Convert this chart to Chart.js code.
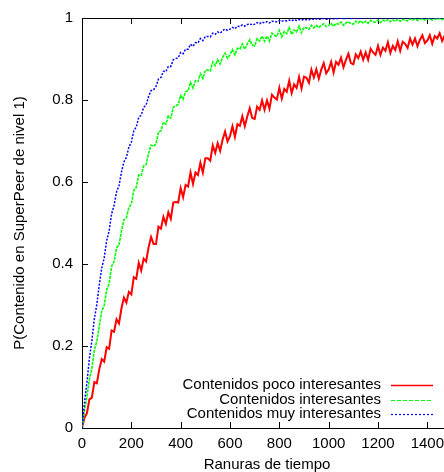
<!DOCTYPE html>
<html>
<head>
<meta charset="utf-8">
<script src="https://cdn.jsdelivr.net/npm/chart.js@4.4.1/dist/chart.umd.min.js"></script>
<style>
    html, body { margin: 0; padding: 0; background: #fff; overflow: hidden; }
    #wrap { width: 460px; height: 472px; }
</style>
</head>
<body>
<div id="wrap"><canvas id="grafico" width="460" height="472"></canvas></div>
<script>
// ranuras de tiempo (eje x)
const ranuras = [
    0, 10, 20, 30, 40, 50, 60, 70, 80, 90,
    100, 110, 120, 130, 140, 150, 160, 170, 180, 190,
    200, 210, 220, 230, 240, 250, 260, 270, 280, 290,
    300, 310, 320, 330, 340, 350, 360, 370, 380, 390,
    400, 410, 420, 430, 440, 450, 460, 470, 480, 490,
    500, 510, 520, 530, 540, 550, 560, 570, 580, 590,
    600, 610, 620, 630, 640, 650, 660, 670, 680, 690,
    700, 710, 720, 730, 740, 750, 760, 770, 780, 790,
    800, 810, 820, 830, 840, 850, 860, 870, 880, 890,
    900, 910, 920, 930, 940, 950, 960, 970, 980, 990,
    1000, 1010, 1020, 1030, 1040, 1050, 1060, 1070, 1080, 1090,
    1100, 1110, 1120, 1130, 1140, 1150, 1160, 1170, 1180, 1190,
    1200, 1210, 1220, 1230, 1240, 1250, 1260, 1270, 1280, 1290,
    1300, 1310, 1320, 1330, 1340, 1350, 1360, 1370, 1380, 1390,
    1400, 1410, 1420, 1430, 1440, 1450, 1460, 1470, 1480, 1490,
    1500
];

const pocoInteresantes = [
    0, .025, .036, .070, .074, .112, .109, .143, .168, .162,
    .197, .193, .238, .235, .265, .255, .292, .318, .306, .332,
    .326, .368, .364, .403, .384, .413, .406, .441, .466, .449,
    .449, .491, .486, .515, .498, .526, .510, .550, .551, .550,
    .585, .563, .593, .589, .623, .595, .623, .617, .647, .623,
    .658, .658, .652, .689, .671, .695, .676, .703, .723, .699,
    .712, .736, .710, .741, .737, .760, .736, .760, .780, .756,
    .754, .784, .776, .799, .776, .799, .779, .813, .806, .801,
    .830, .803, .827, .820, .847, .817, .838, .829, .856, .828,
    .857, .854, .842, .874, .855, .875, .852, .874, .890, .865,
    .874, .893, .867, .893, .886, .903, .880, .898, .913, .890,
    .887, .911, .902, .918, .898, .916, .898, .925, .916, .910,
    .932, .910, .928, .920, .941, .915, .932, .922, .943, .920,
    .942, .937, .927, .950, .935, .950, .931, .947, .958, .939,
    .945, .958, .937, .956, .950, .963, .944, .957, .967, .950,
    .949
];

const interesantes = [
    0, .043, .076, .119, .146, .190, .211, .249, .285, .299,
    .337, .352, .394, .406, .439, .447, .480, .508, .513, .538,
    .546, .580, .587, .617, .616, .639, .643, .670, .690, .687,
    .693, .722, .725, .746, .741, .761, .756, .782, .786, .789,
    .811, .802, .821, .822, .843, .829, .847, .845, .864, .852,
    .873, .873, .871, .893, .884, .898, .888, .904, .914, .902,
    .910, .923, .910, .926, .924, .937, .924, .937, .947, .934,
    .932, .950, .944, .956, .943, .956, .944, .963, .958, .955,
    .970, .954, .967, .962, .977, .960, .971, .966, .980, .964,
    .977, .976, .972, .982, .976, .982, .976, .982, .986, .979,
    .982, .987, .980, .987, .985, .990, .982, .988, .991, .986,
    .985, .992, .988, .993, .987, .992, .987, .994, .991, .990,
    .995, .989, .995, .992, .996, .991, .995, .992, .997, .992,
    .997, .995, .993, .998, .995, .998, .994, .997, .999, .995,
    .997, .999, .995, .998, .997, .999, .996, .999, .999, .997,
    .999
];

const muyInteresantes = [
    0, .061, .111, .170, .213, .266, .301, .349, .390, .415,
    .457, .481, .522, .543, .576, .591, .624, .649, .660, .685,
    .697, .725, .734, .758, .763, .782, .788, .809, .823, .825,
    .833, .851, .855, .870, .869, .882, .882, .898, .901, .903,
    .916, .913, .924, .924, .936, .931, .940, .939, .950, .945,
    .955, .955, .954, .963, .960, .966, .963, .969, .973, .970,
    .973, .977, .974, .980, .979, .983, .980, .984, .986, .983,
    .985, .989, .986, .990, .988, .991, .988, .992, .991, .991,
    .994, .992, .994, .993, .995, .993, .996, .994, .996, .995,
    .997, .996, .996, .998, .997, .998, .997, .998, .999, .997,
    .998, .999, .998, .999, .999, 1, .999, .999, 1, .999,
    1, 1, .999, 1, 1, 1, 1, 1, 1, 1,
    1, 1, 1, 1, 1, 1, 1, 1, 1, 1,
    1, 1, 1, 1, 1, 1, 1, 1, 1, 1,
    1, 1, 1, 1, 1, 1, 1, 1, 1, 1,
    1
];

const etiquetas = ["Contenidos poco interesantes", "Contenidos interesantes", "Contenidos muy interesantes"];
const colores = ["#ff0000", "#00ff00", "#0000ff"];
const trazosCurva = [[], [3, 1], [2, 1.5]];
const trazosLeyenda = [[], [4, 2], [2, 2]];
const grosorCurva = [2, 1.6, 1.5];
const grosorLeyenda = [1.5, 1.2, 1.2];
const ticksX = [0, 200, 400, 600, 800, 1000, 1200, 1400];
const ticksY = [0, 0.2, 0.4, 0.6, 0.8, 1];
const tituloX = "Ranuras de tiempo";
const tituloY = "P(Contenido en SuperPeer de nivel 1)";

const FUENTE = "'Liberation Sans', Arial, Helvetica, sans-serif";

// marco, ticks hacia dentro, titulos y leyenda al estilo gnuplot
const estiloGnuplot = {
    id: "estiloGnuplot",
    beforeDatasetsDraw(chart) {
        const { ctx, chartArea: a, scales: { x, y } } = chart;
        ctx.save();
        ctx.strokeStyle = "#000";
        ctx.lineWidth = 1;
        ctx.strokeRect(Math.round(a.left) + 0.5, Math.round(a.top) + 0.5,
                       Math.round(a.right - a.left), Math.round(a.bottom - a.top));
        ctx.beginPath();
        ticksX.forEach(v => {
            const px = Math.round(x.getPixelForValue(v)) + 0.5;
            ctx.moveTo(px, a.bottom); ctx.lineTo(px, a.bottom - 6);
            ctx.moveTo(px, a.top); ctx.lineTo(px, a.top + 6);
        });
        ticksY.forEach(v => {
            const py = Math.round(y.getPixelForValue(v)) + 0.5;
            ctx.moveTo(a.left, py); ctx.lineTo(a.left + 6, py);
            ctx.moveTo(a.right, py); ctx.lineTo(a.right - 6, py);
        });
        ctx.stroke();
        ctx.restore();
    },
    afterDraw(chart) {
        const { ctx, chartArea: a } = chart;
        ctx.save();
        ctx.fillStyle = "#000";
        ctx.font = `15px ${FUENTE}`;
        ctx.textBaseline = "middle";

        ctx.textAlign = "center";
        ctx.fillText(tituloX, (a.left + a.right) / 2, 465);

        ctx.save();
        ctx.translate(20, (a.top + a.bottom) / 2);
        ctx.rotate(-Math.PI / 2);
        ctx.fillText(tituloY, 0, 0);
        ctx.restore();

        const filas = [385, 400, 414];
        chart.data.datasets.forEach((ds, i) => {
            ctx.textAlign = "right";
            ctx.fillStyle = "#000";
            ctx.fillText(ds.label, 381, filas[i]);
            ctx.beginPath();
            ctx.strokeStyle = ds.borderColor;
            ctx.lineWidth = grosorLeyenda[i];
            ctx.setLineDash(trazosLeyenda[i]);
            ctx.moveTo(391, filas[i] + 0.5);
            ctx.lineTo(433, filas[i] + 0.5);
            ctx.stroke();
            ctx.setLineDash([]);
        });
        ctx.restore();
    }
};

const series = [pocoInteresantes, interesantes, muyInteresantes];

new Chart(document.getElementById("grafico"), {
    type: "line",
    data: {
        datasets: series.map((serie, i) => ({
            label: etiquetas[i],
            data: ranuras.map((r, j) => ({ x: r, y: serie[j] })),
            borderColor: colores[i],
            borderWidth: grosorCurva[i],
            borderDash: trazosCurva[i],
            pointRadius: 0,
            tension: 0,
            fill: false,
            order: 2 - i
        }))
    },
    options: {
        responsive: false,
        animation: false,
        layout: { padding: { top: 18, right: 8, left: 0, bottom: 0 } },
        plugins: { legend: { display: false }, tooltip: { enabled: false } },
        scales: {
            x: {
                type: "linear",
                min: 0,
                max: 1500,
                afterBuildTicks: s => { s.ticks = ticksX.map(v => ({ value: v })); },
                afterFit: s => { s.height = 44; },
                grid: { display: false, drawTicks: false },
                border: { display: false },
                ticks: {
                    font: { family: FUENTE, size: 15 },
                    color: "#000",
                    padding: 7,
                    maxRotation: 0,
                    autoSkip: false,
                    callback: v => String(v)
                }
            },
            y: {
                min: 0,
                max: 1,
                afterBuildTicks: s => { s.ticks = ticksY.map(v => ({ value: v })); },
                afterFit: s => { s.width = 82; },
                grid: { display: false, drawTicks: false },
                border: { display: false },
                ticks: {
                    font: { family: FUENTE, size: 15 },
                    color: "#000",
                    padding: 9,
                    callback: v => String(Math.round(v * 10) / 10)
                }
            }
        }
    },
    plugins: [estiloGnuplot]
});
</script>
</body>
</html>
